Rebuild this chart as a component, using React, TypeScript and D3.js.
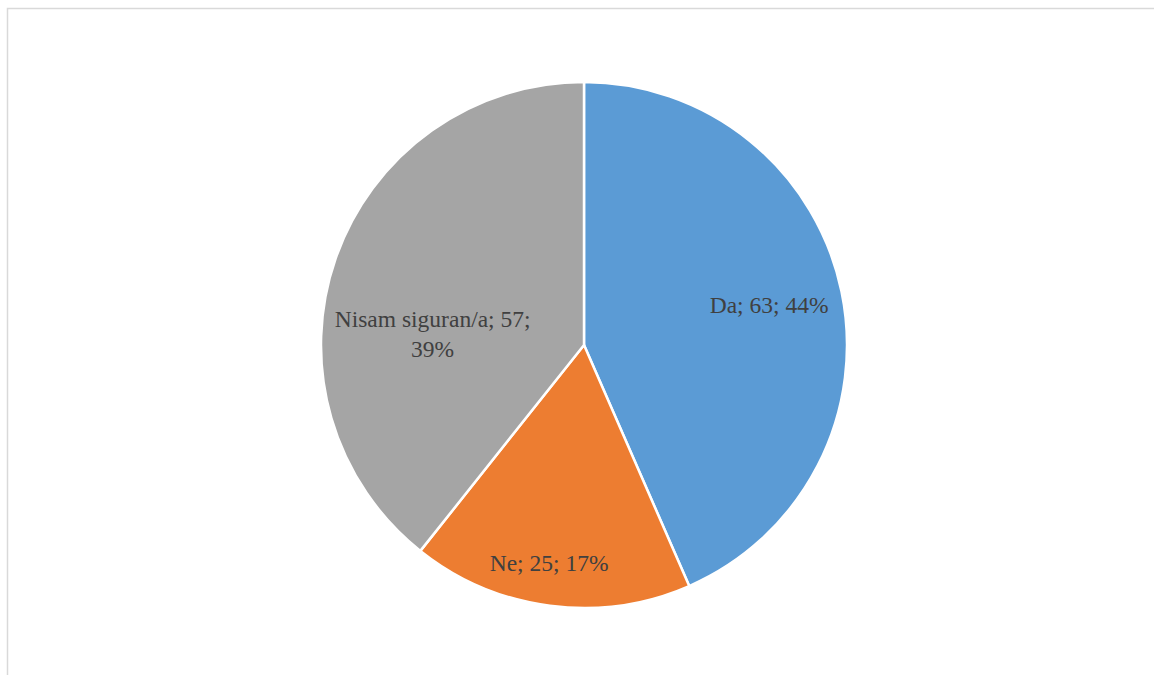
// @ts-nocheck
import * as d3 from "d3"
import * as React from "react"

const categories = ["Da", "Ne", "Nisam siguran/a"]
const counts = [63, 25, 57]
const percentLabels = ["44%", "17%", "39%"]
const colors = ["#5b9bd5", "#ed7d31", "#a5a5a5"]

// label placement (angle in degrees clockwise from top, radius fraction)
const labelAngles = [77.8, 189.1, 274]
const labelRadii = [0.72, 0.84, 0.577]

const width = 1154
const height = 675
const cx = 584
const cy = 345
const radius = 263

export default function App() {
  const pie = d3.pie<number>().sort(null).value(d => d)
  const arcs = pie(counts)
  const arc = d3.arc().innerRadius(0).outerRadius(radius)

  const labels = categories.map((c, i) => {
    const a = (labelAngles[i] * Math.PI) / 180
    const r = labelRadii[i] * radius
    const x = Math.sin(a) * r
    const y = -Math.cos(a) * r
    const lines = i === 2
      ? [`${c}; ${counts[i]};`, percentLabels[i]]
      : [`${c}; ${counts[i]}; ${percentLabels[i]}`]
    return { x, y, lines }
  })

  return (
    <div style={{ position: "fixed", left: 0, top: 0 }}>
      <svg width={width} height={height} style={{ display: "block", background: "#fff" }}>
        <rect x={7.5} y={8.5} width={1300} height={800} fill="#fff" stroke="#d9d9d9" strokeWidth={1.5} />
        <g transform={`translate(${cx},${cy})`}>
          {arcs.map((d, i) => (
            <path key={i} d={arc(d)} fill={colors[i]} stroke="#fff" strokeWidth={2.5} strokeLinejoin="round" />
          ))}
          {labels.map((l, i) => (
            <text
              key={i}
              x={l.x}
              y={l.y + 8 - (l.lines.length - 1) * 15}
              textAnchor="middle"
              fill="#404040"
              style={{ fontFamily: "'Liberation Serif', 'Times New Roman', serif", fontSize: "23.5px" }}
            >
              {l.lines.map((t, j) => (
                <tspan key={j} x={l.x} dy={j === 0 ? 0 : 30}>{t}</tspan>
              ))}
            </text>
          ))}
        </g>
      </svg>
    </div>
  )
}
